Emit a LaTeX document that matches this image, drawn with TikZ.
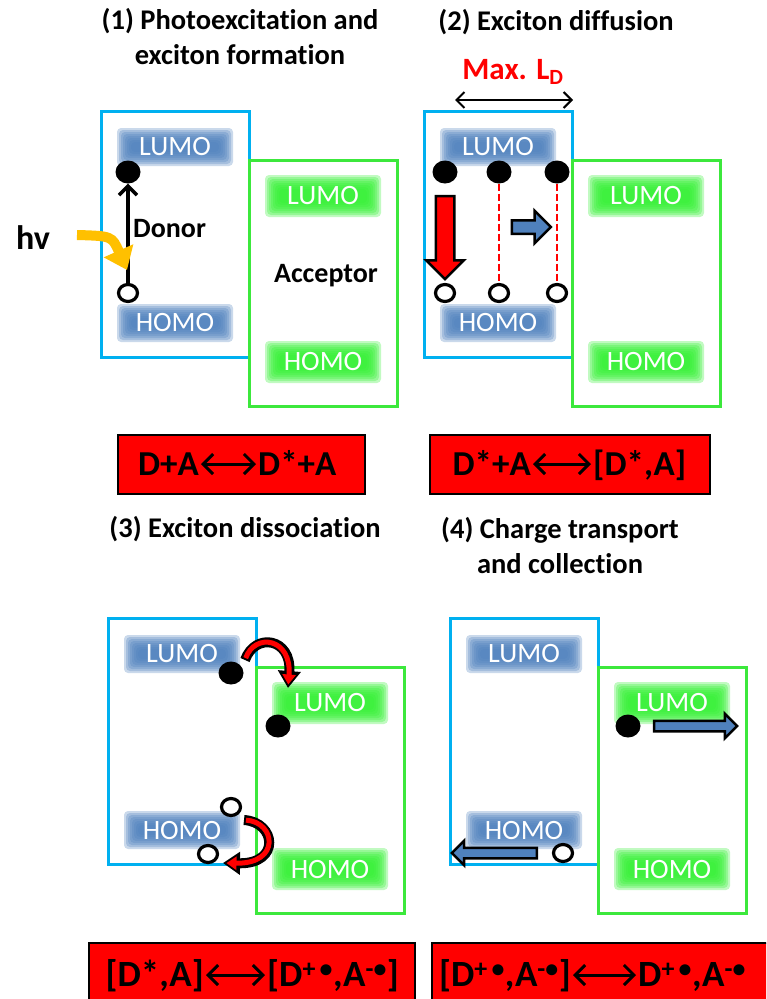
\documentclass[tikz,border=0pt]{standalone}
\usepackage{fontspec}
\setmainfont{Carlito}[Ligatures=NoCommon]
\usepackage{tikz}
\usetikzlibrary{shapes.geometric, shapes.arrows, arrows.meta, positioning, calc}
\definecolor{donorcyan}{RGB}{0,176,240}
\definecolor{accgreen}{RGB}{60,232,60}
\definecolor{orbblue}{RGB}{79,129,189}
\definecolor{orbgreen}{RGB}{51,240,51}
\definecolor{hvorange}{RGB}{255,192,0}
\definecolor{eqred}{RGB}{255,0,0}
% blurred energy level: name, centre, colour, half width, half height, text
\newcommand{\orbital}[6]{%
  \foreach \k in {0,...,7}{
    \fill[#3, opacity=0.3, rounded corners=4pt]
      ($(#2)+(-#4-8+2*\k,-#5-8+2*\k)$) rectangle ($(#2)+(#4+8-2*\k,#5+8-2*\k)$);
  }
  \node[orbtext] (#1) at (#2) {#6};
}
\tikzset{
  title/.style={font=\fontsize{28.5}{35}\selectfont\bfseries, align=center},
  donorbox/.style={rectangle, draw=donorcyan, line width=3pt, inner sep=0pt, outer sep=0pt,
    minimum width=148pt, minimum height=246pt},
  accbox/.style={rectangle, draw=accgreen, line width=3pt, inner sep=0pt, outer sep=0pt,
    minimum width=148pt, minimum height=246pt},
  orbtext/.style={text=white, inner sep=0pt, font=\fontsize{28}{30}\selectfont},
  elec/.style={ellipse, fill=black, inner sep=0pt, minimum width=25pt, minimum height=23pt},
  hole/.style={ellipse, draw=black, fill=white, line width=3.2pt, inner sep=0pt,
    minimum width=19pt, minimum height=17pt},
  lbl/.style={font=\fontsize{28}{30}\selectfont\bfseries, inner sep=0pt},
  eqbox/.style={rectangle, draw=black, fill=eqred, line width=2pt, inner sep=0pt,
    minimum height=59pt},
  eqtext/.style={font=\fontsize{35}{40}\selectfont\bfseries, inner sep=2pt,
    text height=22.5pt, text depth=0pt},
  eqtextlow/.style={font=\fontsize{37}{40}\selectfont\bfseries, inner sep=2pt,
    text height=23.8pt, text depth=0pt},
  eqarr/.style={{Straight Barb[length=10pt, width=20pt]}-{Straight Barb[length=10pt, width=20pt]}, line width=3pt},
  uparr/.style={-{Straight Barb[length=9pt, width=18pt]}, line width=3.5pt},
  ldarr/.style={{Straight Barb[length=8pt, width=16pt]}-{Straight Barb[length=8pt, width=16pt]}, line width=2pt},
  hvarr/.style={-{Triangle[length=21pt, width=31pt]}, line width=10pt, color=hvorange},
  recomb/.style={dash pattern=on 7pt off 3pt, red, line width=2pt},
  redblock/.style={single arrow, draw=black, fill=red, line width=2.5pt, inner xsep=0pt, inner ysep=8pt,
    minimum height=83pt, minimum width=35pt, single arrow head extend=9.5pt},
  blueblock/.style={single arrow, draw=black, fill=orbblue, line width=2.5pt, inner xsep=0pt, inner ysep=4pt,
    minimum height=#1, minimum width=22pt, single arrow head extend=7pt},
  curveback/.style={line width=10pt, black, -{Triangle[length=17pt, width=22pt]}},
  curvefront/.style={line width=5pt, red, shorten >=3.5pt, shorten <=2pt, -{Triangle[length=10pt, width=13pt]}},
}

\begin{document}
\begin{tikzpicture}[x=1pt, y=-1pt]
  \useasboundingbox (0,0) rectangle (766,999);
  \clip (0,0) rectangle (766,999);

  \node[title] (t1) at (240,37) {(1) Photoexcitation and\\exciton formation};
  \node[title] (t2) at (556,22) {(2) Exciton diffusion};
  \node[title] (t3) at (245,529) {(3) Exciton dissociation};
  \node[title] (t4) at (560,546) {(4) Charge transport\\and collection};

  % donor / acceptor pair of each panel
  \foreach \p/\cx/\cy in {1/175/234, 2/498/234, 3/182/741, 4/524/741}{
    \node[donorbox] (d\p) at (\cx,\cy) {};
    \node[accbox, anchor=north west] (a\p) at ([yshift=-49pt]d\p.north east) {};
    \coordinate (pdl\p) at ([yshift=-36pt]d\p.north);
    \coordinate (pdh\p) at ([yshift=34pt]d\p.south);
    \coordinate (pal\p) at ([yshift=-36pt]a\p.north);
    \coordinate (pah\p) at ([yshift=44pt]a\p.south);
    \orbital{dl\p}{pdl\p}{orbblue}{50}{11}{LUMO}
    \orbital{dh\p}{pdh\p}{orbblue}{50}{11}{HOMO}
    \orbital{al\p}{pal\p}{orbgreen}{50}{13}{LUMO}
    \orbital{ah\p}{pah\p}{orbgreen}{50}{13}{HOMO}
  }

  % (1)
  \node[elec] (e1) at (128,172) {};
  \node[hole] (h1) at (128,293) {};
  \draw[uparr] (h1) -- (e1);
  \node[lbl, anchor=west] (donor) at (133,229) {Donor};
  \node[lbl] (acc) at (326,276) {Acceptor};
  \node[lbl, font=\fontsize{34}{34}\selectfont\bfseries] (hv) at (33,238) {hv};
  \coordinate (hvs) at (77,235);
  \coordinate (hvt) at (127,270);
  \draw[hvarr] (hvs) .. controls (112,236) .. (hvt);

  % (2)
  \node[font=\fontsize{31}{31}\selectfont\bfseries, red] (ld) at (513,72) {Max. L\textsubscript{D}};
  \coordinate (ldl) at (455,100);
  \coordinate (ldr) at (573,100);
  \draw[ldarr] (ldl) -- (ldr);
  \foreach \n/\x in {a/445, b/499, c/557}{
    \node[elec] (e2\n) at (\x,172) {};
    \node[hole] (h2\n) at (\x,293) {};
  }
  \draw[recomb] (e2b) -- (h2b);
  \draw[recomb] (e2c) -- (h2c);
  \node[redblock, rotate=-90] (rb) at (445,233) {};
  \node[blueblock=39pt, inner ysep=5.5pt, minimum width=30pt, single arrow head extend=9.5pt] (bb) at (528,227) {};

  % (3)
  \node[elec] (e3a) at (231,673) {};
  \node[elec] (e3b) at (278,726) {};
  \node[hole] (h3a) at (231,807) {};
  \node[hole] (h3b) at (208,854) {};
  \coordinate (c3s) at (245,660);
  \coordinate (c3t) at (288,688);
  \coordinate (c3u) at (244,820);
  \coordinate (c3v) at (223,863);
  \foreach \s in {curveback, curvefront}{
    \draw[\s] (c3s) .. controls (255,632) and (292,638) .. (c3t);
    \draw[\s] (c3u) .. controls (276,822) and (281,864) .. (c3v);
  }

  % (4)
  \node[elec] (e4) at (628,726) {};
  \node[hole] (h4) at (563,853) {};
  \node[blueblock=83pt] (be) at (693,726) {};
  \node[blueblock=85pt, rotate=180] (bh) at (497,853) {};

  % reactions
  \node[eqbox, minimum width=247pt] (r1) at (241,464) {};
  \node[eqtext, anchor=east] (r1l) at (201,464) {D+A};
  \node[eqtext, anchor=west] (r1r) at (256,464) {D*+A};
  \draw[eqarr] (r1l) -- (r1r);

  \node[eqbox, minimum width=280pt] (r2) at (570,464) {};
  \node[eqtext, anchor=east] (r2l) at (533,464) {D*+A};
  \node[eqtext, anchor=west] (r2r) at (591,464) {[D*,A]};
  \draw[eqarr] (r2l) -- (r2r);

  \node[eqbox, minimum width=326pt, minimum height=66pt] (r3) at (252,976) {};
  \node[eqtextlow, anchor=east] (r3l) at (206,975) {[D*,A]};
  \node[eqtextlow, anchor=west] (r3r) at (265,975)
    {[D\textsuperscript{+\,\textbullet},A\textsuperscript{-\textbullet}]};
  \draw[eqarr] (r3l) -- (r3r);

  \node[eqbox, minimum width=338pt, minimum height=66pt] (r4) at (601,976) {};
  \node[eqtextlow, anchor=east] (r4l) at (573,975)
    {[D\textsuperscript{+\,\textbullet},A\textsuperscript{-\textbullet}]};
  \node[eqtextlow, anchor=west] (r4r) at (636,975)
    {D\textsuperscript{+\,\textbullet},A\textsuperscript{-\textbullet}};
  \draw[eqarr] (r4l) -- (r4r);
\end{tikzpicture}
\end{document}
